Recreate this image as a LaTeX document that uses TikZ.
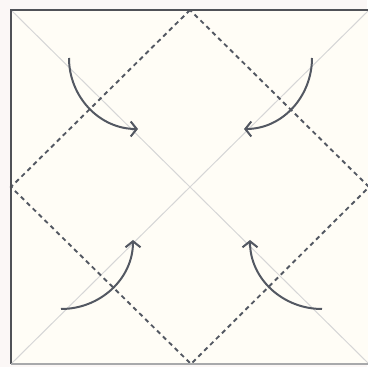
\documentclass[tikz,border=0pt]{standalone}
\usepackage{tikz}
\usetikzlibrary{arrows.meta}

\definecolor{paper}{HTML}{FFFDF6}
\definecolor{outside}{HTML}{FBF7F6}
\definecolor{edge}{HTML}{505257}
\definecolor{crease}{HTML}{D6D6D6}
\definecolor{fold}{HTML}{535862}

\tikzset{
  crease line/.style={crease, line width=1pt},
  valley fold/.style={fold, line width=1.9pt, dash pattern=on 4.5pt off 3.8pt},
  fold arrow/.style={fold, line width=2pt, -{Straight Barb[length=6pt,width=15pt]}}
}

\begin{document}
\begin{tikzpicture}[x=1pt,y=1pt]
  \useasboundingbox (0,0) rectangle (367,367);
  \fill[outside] (0,0) rectangle (367,367);

  % the sheet
  \coordinate (sw) at (11,3);
  \coordinate (ne) at (369,357);
  \coordinate (nw) at (11,357);
  \coordinate (se) at (369,3);
  \fill[paper] (sw) rectangle (ne);

  % creases
  \draw[crease line] (nw) -- (se);
  \draw[crease line] (sw) -- (ne);

  % diamond
  \coordinate (top) at (190,357);
  \coordinate (left) at (11,180);
  \coordinate (bottom) at (191,3);
  \coordinate (right) at (369,180);
  \draw[valley fold] (top) -- (left) -- (bottom) -- (right) -- cycle;

  \draw[edge, line width=2pt] (sw) -- (nw) -- (ne);
  \draw[edge!50, line width=1.4pt] (sw) -- (se);

  % arrows
  \coordinate (tl a) at (69,309);
  \coordinate (tl b) at (138,238);
  \coordinate (tr a) at (312,309);
  \coordinate (tr b) at (244,238);
  \coordinate (bl a) at (61,58);
  \coordinate (bl b) at (133,127);
  \coordinate (br a) at (322,58);
  \coordinate (br b) at (250,127);

  \draw[fold arrow] (tl a) to[out=-90,in=180] (tl b);
  \draw[fold arrow] (tr a) to[out=-90,in=0] (tr b);
  \draw[fold arrow] (bl a) to[out=0,in=-90] (bl b);
  \draw[fold arrow] (br a) to[out=180,in=-90] (br b);
\end{tikzpicture}
\end{document}
